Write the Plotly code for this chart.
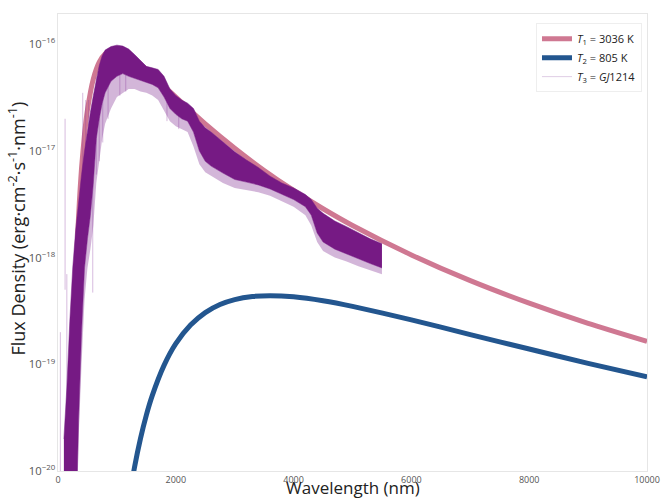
import plotly.graph_objects as go

# Blackbody curve T1 = 3036 K
bb1_wl = [200, 220, 250, 275, 300, 325, 350, 375, 400, 450, 500, 600, 700, 800, 900, 954, 1000,
          1100, 1200, 1400, 1600, 1800, 2000, 2500, 3000, 3500, 4000, 4500, 5000, 6000, 7000,
          8000, 9000, 10000]
bb1_flux = [1.58e-21, 8.5e-21, 5.93e-20, 2.06e-19, 5.62e-19, 1.27e-18, 2.48e-18, 4.34e-18, 6.92e-18,
            1.43e-17, 2.42e-17, 4.73e-17, 6.77e-17, 8.10e-17, 8.70e-17, 8.80e-17, 8.73e-17,
            8.38e-17, 7.82e-17, 6.45e-17, 5.15e-17, 4.06e-17, 3.19e-17, 1.79e-17, 1.06e-17,
            6.56e-18, 4.26e-18, 2.87e-18, 2.00e-18, 1.06e-18, 6.08e-19, 3.74e-19, 2.42e-19, 1.64e-19]

# Blackbody curve T2 = 805 K
bb2_wl = [1200, 1300, 1400, 1500, 1600, 1800, 2000, 2250, 2500, 2750, 3000, 3300, 3600, 4000,
          4500, 5000, 6000, 7000, 8000, 9000, 10000]
bb2_flux = [5.17e-21, 1.09e-20, 2.01e-20, 3.34e-20, 5.08e-20, 9.76e-20, 1.56e-19, 2.33e-19,
            3.05e-19, 3.63e-19, 4.04e-19, 4.32e-19, 4.40e-19, 4.29e-19, 3.94e-19, 3.49e-19,
            2.61e-19, 1.90e-19, 1.39e-19, 1.02e-19, 7.62e-20]

# GJ1214 spectrum: dense band (upper / lower envelope) and light lower fringe
spec_wl = [100, 150, 200, 250, 300, 350, 400, 450, 500, 550, 600, 650, 700, 750, 800, 900, 1000,
           1100, 1200, 1300, 1400, 1500, 1600, 1700, 1800, 1900, 2000, 2100, 2200, 2300, 2400,
           2500, 2600, 2800, 3000, 3200, 3400, 3600, 3800, 4000, 4200, 4300, 4400, 4500, 4700,
           4900, 5100, 5300, 5500]
spec_hi = [2e-20, 6e-20, 2.5e-19, 8e-19, 1.8e-18, 3.5e-18, 6e-18, 1.0e-17, 1.6e-17, 2.3e-17, 3.3e-17,
           4.6e-17, 6.3e-17, 7.8e-17, 8.8e-17, 9.5e-17, 9.8e-17, 9.6e-17, 9.0e-17, 8.0e-17,
           7.0e-17, 6.2e-17, 6.0e-17, 5.8e-17, 5.0e-17, 3.8e-17, 3.3e-17, 3.0e-17, 2.8e-17,
           2.5e-17, 1.9e-17, 1.65e-17, 1.5e-17, 1.2e-17, 9.8e-18, 8.2e-18, 7.0e-18, 5.8e-18,
           5.0e-18, 4.5e-18, 3.9e-18, 3.5e-18, 2.9e-18, 2.6e-18, 2.2e-18, 1.95e-18, 1.7e-18,
           1.5e-18, 1.35e-18]
spec_lo = [1e-21, 1e-21, 1e-21, 1e-21, 2e-21, 3e-20, 2e-19, 8e-19, 1.5e-18, 2.5e-18, 5e-18,
           1.3e-17, 2.0e-17, 2.8e-17, 3.5e-17, 4.5e-17, 5.0e-17, 5.3e-17, 5.0e-17, 4.8e-17,
           4.6e-17, 4.4e-17, 4.2e-17, 3.9e-17, 3.2e-17, 2.5e-17, 2.2e-17, 2.0e-17, 1.9e-17,
           1.5e-17, 1.0e-17, 8.0e-18, 7.2e-18, 6.2e-18, 5.4e-18, 5.1e-18, 4.8e-18, 4.4e-18,
           3.9e-18, 3.5e-18, 3.0e-18, 2.5e-18, 1.7e-18, 1.4e-18, 1.2e-18, 1.08e-18, 0.97e-18,
           0.88e-18, 0.80e-18]
spec_fringe = [1e-21, 1e-21, 1e-21, 1e-21, 2e-21, 2e-20, 1e-19, 4e-19, 8e-19, 1.2e-18, 2e-18,
               5e-18, 8e-18, 1.3e-17, 1.8e-17, 2.5e-17, 3.2e-17, 3.5e-17, 3.8e-17, 3.8e-17,
               3.6e-17, 3.5e-17, 3.3e-17, 3.0e-17, 2.4e-17, 1.9e-17, 1.7e-17, 1.6e-17, 1.5e-17,
               1.1e-17, 7.5e-18, 6.3e-18, 5.8e-18, 5.0e-18, 4.5e-18, 4.3e-18, 4.1e-18, 3.8e-18,
               3.4e-18, 3.0e-18, 2.5e-18, 2.0e-18, 1.4e-18, 1.15e-18, 1.0e-18, 0.92e-18, 0.83e-18,
               0.76e-18, 0.70e-18]

# isolated thin spikes of the spectrum
spike_wl = [40, 120, 150, 420, 470, 520, 590, 650, 700, 760, 850, 1050, 1150, 1850, 2050]
spike_bot = [1e-21, 5e-19, 1e-21, 1e-18, 2e-18, 4e-18, 4.7e-19, 6e-18, 8e-18, 1.2e-17, 2.0e-17,
             3.3e-17, 3.6e-17, 1.9e-17, 1.6e-17]
spike_top = [2e-19, 2e-17, 7e-19, 3.5e-17, 3e-17, 3e-17, 2e-17, 5e-17, 4e-17, 6e-17, 7e-17,
             7e-17, 8e-17, 3e-17, 2.5e-17]

names = ["<i>T</i><sub>1</sub> = 3036 K", "<i>T</i><sub>2</sub> = 805 K",
         "<i>T</i><sub>3</sub> = <i>GJ</i>1214"]
x_ticks = [0, 2000, 4000, 6000, 8000, 10000]

PINK = "#CF7892"
BLUE = "#23568F"
PURPLE = "rgb(118,26,132)"
PURPLE_LIGHT = "rgba(130,45,145,0.35)"

fig = go.Figure()
fig.add_trace(go.Scatter(x=bb1_wl, y=bb1_flux, mode="lines", name=names[0],
                         line=dict(color=PINK, width=5, shape="spline", smoothing=0.6)))
fig.add_trace(go.Scatter(x=bb2_wl, y=bb2_flux, mode="lines", name=names[1],
                         line=dict(color=BLUE, width=5, shape="spline", smoothing=0.6)))

sx, sy = [], []
for w, b, t in zip(spike_wl, spike_bot, spike_top):
    sx += [w, w, None]
    sy += [b, t, None]
fig.add_trace(go.Scatter(x=sx, y=sy, mode="lines", showlegend=False, hoverinfo="skip",
                         line=dict(color="rgba(140,60,160,0.35)", width=1)))

# light fringe below the dense band
fig.add_trace(go.Scatter(x=spec_wl, y=spec_fringe, mode="lines", showlegend=False,
                         line=dict(width=0), hoverinfo="skip"))
fig.add_trace(go.Scatter(x=spec_wl, y=spec_lo, mode="lines", showlegend=False,
                         fill="tonexty", fillcolor=PURPLE_LIGHT, line=dict(width=0),
                         hoverinfo="skip"))
# dense band
fig.add_trace(go.Scatter(x=spec_wl, y=spec_lo, mode="lines", showlegend=False,
                         line=dict(color=PURPLE, width=0.5)))
fig.add_trace(go.Scatter(x=spec_wl, y=spec_hi, mode="lines", showlegend=False,
                         fill="tonexty", fillcolor=PURPLE,
                         line=dict(color=PURPLE, width=0.5)))
# legend entry for the spectrum (thin translucent line)
fig.add_trace(go.Scatter(x=[None], y=[None], mode="lines", name=names[2],
                         line=dict(color="rgba(150,90,170,0.3)", width=1)))

axis_line = "#e6e6e6"
fig.update_layout(
    width=662, height=502,
    margin=dict(l=58, r=15, t=14, b=31, autoexpand=False),
    paper_bgcolor="white", plot_bgcolor="white",
    font=dict(family="Open Sans", color="#444"),
    showlegend=True,
    legend=dict(x=0.9915, y=0.98, xanchor="right", yanchor="top", traceorder="normal",
                bgcolor="white", bordercolor="#eeeeee", borderwidth=1,
                font=dict(size=11, color="#222"), itemwidth=30,
                tracegroupgap=0),
    xaxis=dict(range=[0, 10000], tickvals=x_ticks, ticktext=[str(t) for t in x_ticks],
               automargin=False,
               showgrid=False, zeroline=False, showline=True, linecolor=axis_line,
               mirror=True, ticks="", tickfont=dict(size=9, color="#555")),
    yaxis=dict(type="log", range=[-20, -15.717], dtick=1, exponentformat="power",
               automargin=False,
               showgrid=False, zeroline=False, showline=True, linecolor=axis_line,
               mirror=True, ticks="", tickfont=dict(size=9, color="#555")),
    annotations=[
        dict(text="Wavelength (nm)", xref="paper", yref="paper", x=0.5, y=-0.0656,
             xanchor="center", yanchor="bottom", showarrow=False,
             font=dict(size=17, color="#222")),
        dict(text="Flux Density (erg·cm<sup>-2</sup>·s<sup>-1</sup>·nm<sup>-1</sup>)",
             xref="paper", yref="paper", x=-0.07, y=0.53, textangle=-90,
             xanchor="center", yanchor="middle", showarrow=False,
             font=dict(size=18, color="#222")),
    ],
)

fig.write_html("out.html")
